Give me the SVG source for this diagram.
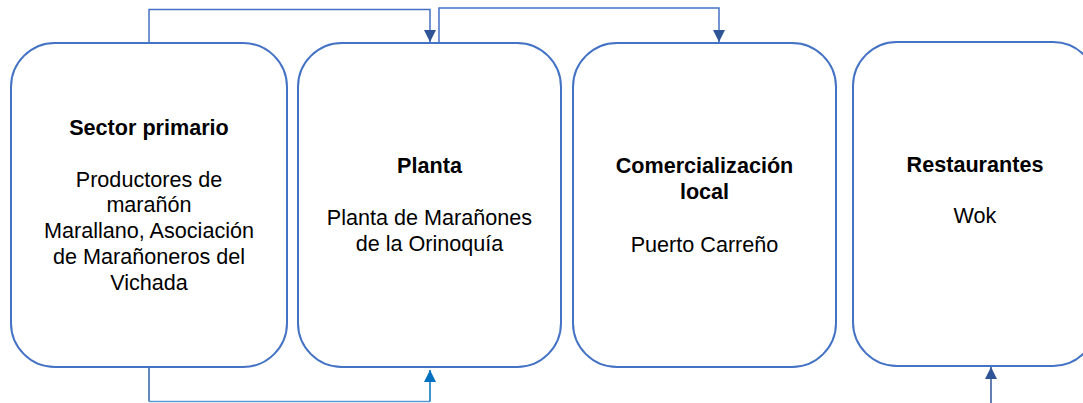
<svg xmlns="http://www.w3.org/2000/svg" width="1083" height="403" viewBox="0 0 1083 403">
<style>
.box{fill:#fff;stroke:#4472C4;stroke-width:2}
.t{font-family:"Liberation Sans",Arial,sans-serif;font-size:21.6px;fill:#000;text-anchor:middle}
.b{font-weight:bold}
.c{fill:none;stroke-width:1.5}
</style>
<defs>
<marker id="ad" markerWidth="12" markerHeight="12" refX="12" refY="6" orient="auto" markerUnits="userSpaceOnUse" viewBox="0 0 12 12"><path d="M0,0 L12,6 L0,12 z" fill="#2F5597"/></marker>
<marker id="ab" markerWidth="12" markerHeight="12" refX="12" refY="6" orient="auto" markerUnits="userSpaceOnUse" viewBox="0 0 12 12"><path d="M0,0 L12,6 L0,12 z" fill="#0070C0"/></marker>
</defs>
<rect width="1083" height="403" fill="#fff"/>
<g id="n1"><rect class="box" x="11" y="43" width="276" height="324" rx="44" ry="44"/>
<text class="t b" x="149" y="135">Sector primario</text>
<text class="t" x="149" y="187">Productores de</text>
<text class="t" x="149" y="212">marañón</text>
<text class="t" x="149" y="238">Marallano, Asociación</text>
<text class="t" x="149" y="264">de Marañoneros del</text>
<text class="t" x="149" y="290">Vichada</text></g>
<g id="n2"><rect class="box" x="298" y="43" width="263" height="324" rx="44" ry="44"/>
<text class="t b" x="429.5" y="173">Planta</text>
<text class="t" x="429.5" y="225">Planta de Marañones</text>
<text class="t" x="429.5" y="251">de la Orinoquía</text></g>
<g id="n3"><rect class="box" x="573" y="43" width="263" height="324" rx="44" ry="44"/>
<text class="t b" x="704.5" y="173">Comercialización</text>
<text class="t b" x="704.5" y="199">local</text>
<text class="t" x="704.5" y="252">Puerto Carreño</text></g>
<g id="n4"><rect class="box" x="853" y="42" width="244" height="324" rx="44" ry="44"/>
<text class="t b" x="975" y="172">Restaurantes</text>
<text class="t" x="975" y="223">Wok</text></g>
<g id="connectors">
<path class="c" stroke="#4472C4" d="M149,43 V9.5 H430 V42" marker-end="url(#ad)"/>
<path class="c" stroke="#4472C4" d="M439,43 V8 H719 V42" marker-end="url(#ad)"/>
<path class="c" stroke="#2E63AE" stroke-width="2" d="M149,368 V401.5"/>
<path class="c" stroke="#5B9BD5" d="M149,401.5 H430"/>
<path class="c" stroke="#0070C0" d="M430,401.5 V370" marker-end="url(#ab)"/>
<path class="c" stroke="#2F5597" d="M991,403 V367" marker-end="url(#ad)"/>
</g>
</svg>
